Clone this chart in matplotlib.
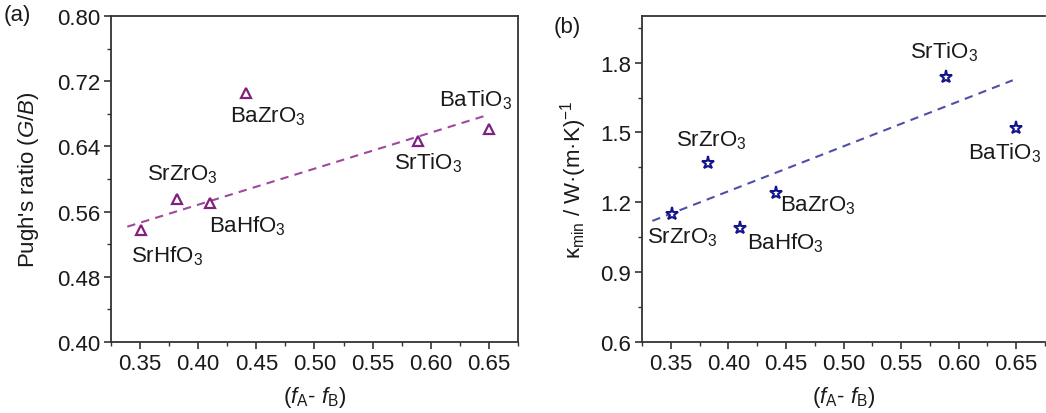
import matplotlib
matplotlib.use("Agg")
import matplotlib.pyplot as plt
from matplotlib.ticker import MultipleLocator

plt.rcParams['font.family'] = ['Liberation Sans', 'DejaVu Sans']
plt.rcParams['mathtext.fontset'] = 'custom'
plt.rcParams['mathtext.rm'] = 'Liberation Sans'
plt.rcParams['mathtext.it'] = 'Liberation Sans:italic'
plt.rcParams['mathtext.bf'] = 'Liberation Sans:bold'

# ---- data (a): Pugh's ratio ----
a_names = ["SrHfO$_3$", "SrZrO$_3$", "BaHfO$_3$", "BaZrO$_3$", "SrTiO$_3$", "BaTiO$_3$"]
a_x = [0.351, 0.382, 0.410, 0.441, 0.589, 0.650]
a_y = [0.538, 0.576, 0.571, 0.706, 0.647, 0.661]
a_fit_x = [0.339, 0.650]
a_fit_y = [0.5415, 0.679]

# ---- data (b): kappa_min ----
b_names = ["SrZrO$_3$", "SrZrO$_3$", "BaHfO$_3$", "BaZrO$_3$", "SrTiO$_3$", "BaTiO$_3$"]
b_x = [0.351, 0.382, 0.410, 0.441, 0.589, 0.650]
b_y = [1.15, 1.37, 1.09, 1.24, 1.74, 1.52]
b_fit_x = [0.334, 0.647]
b_fit_y = [1.12, 1.724]

# label placements (layout)
a_lab_xy = [(0.373, 0.506), (0.386, 0.606), (0.442, 0.543), (0.4595, 0.678), (0.598, 0.6205), (0.6385, 0.698)]
b_lab_xy = [(0.360, 1.053), (0.385, 1.47), (0.4495, 1.027), (0.478, 1.191), (0.5876, 1.85), (0.6398, 1.416)]

W, H = 1046, 414
fig = plt.figure(figsize=(W / 100, H / 100), dpi=100)

def box(l, r, t, b):
    return [l / W, 1 - b / H, (r - l) / W, (b - t) / H]

axa = fig.add_axes(box(111, 518, 17, 343))
axb = fig.add_axes(box(642, 1045, 17, 343))

spine_col = '#333333'
txt_col = '#1a1a1a'
fs = 16

def style(ax):
    for s in ax.spines.values():
        s.set_color(spine_col)
        s.set_linewidth(1.3)
    ax.tick_params(which='major', direction='out', length=5, width=1.2, colors=spine_col,
                   labelcolor=txt_col, labelsize=fs, pad=3)
    ax.tick_params(which='minor', direction='out', length=3, width=1.0, colors=spine_col)
    ax.tick_params(top=False, right=False)

# panel (a)
col_a = '#80207f'
axa.plot(a_fit_x, a_fit_y, linestyle=(0, (4, 3)), color='#9e4a9c', lw=1.5, zorder=2)
axa.plot(a_x, a_y, linestyle='none', marker='^', ms=7.5, mfc='white', mec=col_a, mew=1.6, zorder=3)
for name, (tx, ty) in zip(a_names, a_lab_xy):
    axa.text(tx, ty, name, fontsize=fs, ha='center', va='center', color=txt_col)
axa.set_xlim(0.325, 0.675)
axa.set_ylim(0.40, 0.80)
axa.xaxis.set_major_locator(MultipleLocator(0.05))
axa.xaxis.set_minor_locator(MultipleLocator(0.025))
axa.yaxis.set_major_locator(MultipleLocator(0.08))
axa.yaxis.set_minor_locator(MultipleLocator(0.04))
axa.xaxis.set_major_formatter(plt.FormatStrFormatter('%.2f'))
axa.yaxis.set_major_formatter(plt.FormatStrFormatter('%.2f'))
style(axa)
axa.set_xlabel(r"($f_{\rm A}$- $f_{\rm B}$)", fontsize=fs, labelpad=7, color=txt_col)
axa.set_ylabel(r"Pugh's ratio ($G$/$B$)", fontsize=fs, labelpad=11, color=txt_col)
fig.text(17 / W, 1 - 15 / H, "(a)", fontsize=fs, ha='center', va='center', color=txt_col)

# panel (b)
col_b = '#14148c'
axb.plot(b_fit_x, b_fit_y, linestyle=(0, (4, 3)), color='#4f4fa8', lw=1.5, zorder=2)
axb.plot(b_x, b_y, linestyle='none', marker='*', ms=9.5, mfc='white', mec=col_b, mew=1.5, zorder=3)
for name, (tx, ty) in zip(b_names, b_lab_xy):
    axb.text(tx, ty, name, fontsize=fs, ha='center', va='center', color=txt_col)
axb.set_xlim(0.325, 0.675)
axb.set_ylim(0.6, 2.0)
axb.xaxis.set_major_locator(MultipleLocator(0.05))
axb.xaxis.set_minor_locator(MultipleLocator(0.025))
axb.set_yticks([0.6, 0.9, 1.2, 1.5, 1.8])
axb.yaxis.set_minor_locator(MultipleLocator(0.15))
axb.xaxis.set_major_formatter(plt.FormatStrFormatter('%.2f'))
axb.yaxis.set_major_formatter(plt.FormatStrFormatter('%.1f'))
style(axb)
axb.spines['right'].set_visible(False)
axb.set_xlabel(r"($f_{\rm A}$- $f_{\rm B}$)", fontsize=fs, labelpad=7, color=txt_col)
axb.set_ylabel(r"κ$_{\rm min}$ / W·(m·K)$^{-1}$", fontsize=fs, labelpad=8, color=txt_col)
fig.text(567 / W, 1 - 28 / H, "(b)", fontsize=fs, ha='center', va='center', color=txt_col)

fig.savefig("out.png", dpi=100)
